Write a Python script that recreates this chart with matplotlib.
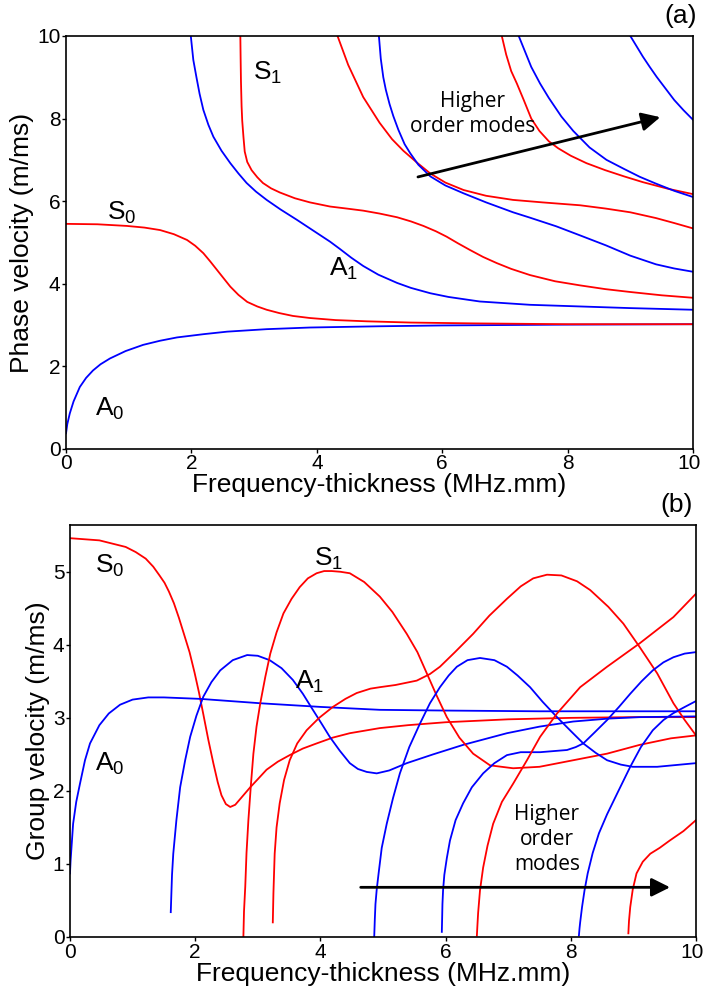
import matplotlib.pyplot as plt
from matplotlib.transforms import ScaledTranslation

plt.rcParams['font.family'] = ['Liberation Sans', 'DejaVu Sans']
plt.rcParams['mathtext.fontset'] = 'custom'
plt.rcParams['mathtext.rm'] = 'Liberation Sans'
plt.rcParams['mathtext.it'] = 'Liberation Sans'

RED = '#ff0000'
BLUE = '#0000ff'

# ---- (a) phase velocity ----
a0_fd = [0, 0.02, 0.06, 0.12, 0.22, 0.32, 0.43, 0.55, 0.7, 0.95, 1.23, 1.5, 1.77, 2.2, 2.57, 3.2, 3.89, 5.0, 6.0, 8.0, 10.0]
a0_cp = [0.38, 0.6, 0.86, 1.15, 1.5, 1.72, 1.9, 2.05, 2.19, 2.37, 2.52, 2.62, 2.7, 2.78, 2.84, 2.9, 2.94, 2.97, 2.99, 3.01, 3.02]

s0_fd = [0, 0.5, 0.97, 1.25, 1.5, 1.72, 1.93, 2.06, 2.19, 2.3, 2.41, 2.52, 2.62, 2.75, 2.89, 3.05, 3.2, 3.4, 3.62, 3.89, 4.3, 4.8, 5.5, 6.5, 8.0, 10.0]
s0_cp = [5.45, 5.44, 5.4, 5.36, 5.3, 5.2, 5.06, 4.92, 4.74, 4.54, 4.33, 4.12, 3.93, 3.73, 3.56, 3.45, 3.37, 3.29, 3.22, 3.17, 3.12, 3.09, 3.06, 3.04, 3.02, 3.02]

a1_fd = [1.99, 2.03, 2.08, 2.13, 2.19, 2.27, 2.35, 2.48, 2.62, 2.75, 2.88, 3.03, 3.2, 3.42, 3.68, 3.95, 4.21, 4.37, 4.55, 4.74, 4.98, 5.28, 5.5, 5.81, 6.1, 6.6, 7.4, 8.2, 9.0, 10.0]
a1_cp = [10.0, 9.42, 9.0, 8.6, 8.21, 7.85, 7.56, 7.22, 6.92, 6.67, 6.44, 6.23, 6.03, 5.8, 5.55, 5.28, 5.02, 4.84, 4.63, 4.43, 4.22, 4.02, 3.9, 3.77, 3.68, 3.57, 3.49, 3.45, 3.41, 3.37]

s1_fd = [2.78, 2.785, 2.79, 2.8, 2.81, 2.83, 2.85, 2.89, 2.96, 3.05, 3.14, 3.27, 3.41, 3.65, 3.89, 4.21, 4.48, 4.74, 5.0, 5.28, 5.5, 5.7, 5.9, 6.07, 6.25, 6.44, 6.65, 6.87, 7.1, 7.4, 7.8, 8.2, 8.6, 9.0, 9.5, 10.0]
s1_cp = [10.0, 9.42, 8.9, 8.3, 7.95, 7.55, 7.2, 6.95, 6.75, 6.58, 6.44, 6.31, 6.21, 6.07, 5.97, 5.87, 5.82, 5.77, 5.7, 5.61, 5.51, 5.4, 5.27, 5.14, 4.98, 4.82, 4.65, 4.5, 4.36, 4.21, 4.06, 3.96, 3.87, 3.8, 3.72, 3.66]

s2_fd = [4.33, 4.5, 4.74, 5.0, 5.2, 5.38, 5.6, 5.81, 6.05, 6.34, 6.7, 7.13, 7.6, 8.2, 8.61, 9.0, 9.41, 9.7, 10.0]
s2_cp = [10.0, 9.3, 8.52, 7.9, 7.5, 7.22, 6.93, 6.67, 6.45, 6.27, 6.13, 6.03, 5.97, 5.9, 5.82, 5.73, 5.59, 5.47, 5.34]

a2_fd = [4.99, 5.02, 5.06, 5.1, 5.16, 5.22, 5.3, 5.4, 5.49, 5.62, 5.81, 6.05, 6.34, 6.7, 7.13, 7.4, 7.82, 8.2, 8.61, 9.0, 9.41, 9.7, 10.0]
a2_cp = [10.0, 9.45, 9.0, 8.7, 8.35, 8.06, 7.73, 7.38, 7.16, 6.88, 6.6, 6.38, 6.19, 5.97, 5.73, 5.6, 5.39, 5.17, 4.93, 4.68, 4.47, 4.37, 4.29]

s3_fd = [6.95, 7.02, 7.1, 7.19, 7.3, 7.42, 7.55, 7.7, 7.85, 8.05, 8.3, 8.6, 8.9, 9.2, 9.6, 10.0]
s3_cp = [10.0, 9.55, 9.15, 8.85, 8.45, 8.0, 7.7, 7.45, 7.28, 7.1, 6.92, 6.75, 6.6, 6.46, 6.3, 6.17]

a3_fd = [7.22, 7.3, 7.42, 7.56, 7.7, 7.9, 8.09, 8.35, 8.62, 8.9, 9.15, 9.4, 9.7, 10.0]
a3_cp = [10.0, 9.7, 9.25, 8.85, 8.5, 8.05, 7.7, 7.3, 7.0, 6.78, 6.59, 6.43, 6.25, 6.1]

a4_fd = [9.0, 9.1, 9.2, 9.31, 9.42, 9.55, 9.7, 9.85, 10.0]
a4_cp = [10.0, 9.75, 9.5, 9.25, 9.01, 8.75, 8.45, 8.2, 7.97]

# ---- (b) group velocity ----
s0g_fd = [0, 0.47, 0.89, 1.05, 1.21, 1.33, 1.43, 1.51, 1.58, 1.66, 1.74, 1.82, 1.91, 1.99, 2.06, 2.13, 2.21, 2.29, 2.36, 2.42, 2.49, 2.56, 2.64, 2.72, 2.8, 2.88, 3.0, 3.14, 3.32, 3.51, 3.72, 3.94, 4.2, 4.47, 4.95, 5.4, 6.0, 7.0, 8.0, 9.0, 10.0]
s0g_cg = [5.46, 5.43, 5.34, 5.27, 5.18, 5.07, 4.95, 4.85, 4.73, 4.57, 4.37, 4.15, 3.9, 3.62, 3.35, 3.05, 2.7, 2.38, 2.12, 1.94, 1.82, 1.78, 1.81, 1.89, 1.97, 2.05, 2.16, 2.29, 2.4, 2.49, 2.58, 2.65, 2.73, 2.79, 2.86, 2.9, 2.94, 2.98, 3.0, 3.01, 3.01]

a0g_fd = [0, 0.01, 0.03, 0.05, 0.1, 0.16, 0.24, 0.32, 0.47, 0.62, 0.8, 1.0, 1.25, 1.5, 2.08, 3.04, 4.0, 4.95, 6.0, 7.5, 10.0]
a0g_cg = [0.87, 1.05, 1.3, 1.55, 1.85, 2.1, 2.42, 2.65, 2.9, 3.06, 3.18, 3.25, 3.28, 3.28, 3.26, 3.2, 3.15, 3.11, 3.1, 3.09, 3.09]

a1g_fd = [1.61, 1.62, 1.63, 1.65, 1.7, 1.76, 1.84, 1.92, 2.02, 2.13, 2.26, 2.4, 2.6, 2.83, 3.0, 3.19, 3.38, 3.56, 3.72, 3.88, 4.02, 4.15, 4.31, 4.47, 4.6, 4.74, 4.9, 5.1, 5.38, 5.8, 6.28, 6.98, 7.5, 8.04, 8.6, 9.1, 10.0]
a1g_cg = [0.34, 0.6, 0.85, 1.14, 1.6, 2.05, 2.42, 2.74, 3.03, 3.29, 3.49, 3.65, 3.79, 3.86, 3.85, 3.79, 3.68, 3.52, 3.33, 3.11, 2.92, 2.74, 2.55, 2.38, 2.3, 2.26, 2.24, 2.28, 2.38, 2.5, 2.63, 2.79, 2.88, 2.95, 2.99, 3.01, 3.02]

s1g_fd = [2.77, 2.78, 2.8, 2.82, 2.85, 2.89, 2.93, 2.98, 3.04, 3.12, 3.2, 3.3, 3.41, 3.54, 3.67, 3.8, 3.94, 4.06, 4.18, 4.32, 4.47, 4.7, 4.95, 5.15, 5.38, 5.55, 5.7, 5.86, 6.02, 6.22, 6.44, 6.71, 7.08, 7.5, 8.04, 8.58, 9.1, 9.6, 10.0]
s1g_cg = [0.0, 0.35, 0.69, 1.15, 1.6, 2.08, 2.51, 2.88, 3.2, 3.56, 3.88, 4.17, 4.43, 4.63, 4.79, 4.91, 4.98, 5.01, 5.01, 5.0, 4.98, 4.86, 4.66, 4.45, 4.15, 3.9, 3.61, 3.3, 3.01, 2.73, 2.51, 2.35, 2.31, 2.33, 2.42, 2.51, 2.63, 2.72, 2.76]

s2g_fd = [3.24, 3.25, 3.27, 3.3, 3.35, 3.42, 3.51, 3.63, 3.78, 3.98, 4.2, 4.4, 4.58, 4.8, 4.95, 5.2, 5.54, 5.75, 5.91, 6.15, 6.44, 6.7, 6.98, 7.2, 7.4, 7.62, 7.85, 8.1, 8.31, 8.6, 8.84, 9.1, 9.38, 9.64, 9.82, 10.0]
s2g_cg = [0.2, 0.6, 1.14, 1.5, 1.83, 2.15, 2.42, 2.65, 2.83, 3.0, 3.15, 3.26, 3.34, 3.4, 3.42, 3.45, 3.51, 3.6, 3.7, 3.9, 4.15, 4.4, 4.63, 4.8, 4.91, 4.96, 4.95, 4.87, 4.75, 4.52, 4.29, 3.97, 3.61, 3.2, 2.97, 2.76]

a2g_fd = [4.86, 4.87, 4.88, 4.9, 4.93, 4.98, 5.06, 5.16, 5.27, 5.42, 5.59, 5.75, 5.91, 6.05, 6.18, 6.35, 6.55, 6.78, 6.98, 7.15, 7.35, 7.55, 7.78, 8.0, 8.2, 8.4, 8.58, 8.8, 8.99, 9.38, 10.0]
a2g_cg = [0.0, 0.25, 0.45, 0.65, 0.87, 1.22, 1.55, 1.9, 2.24, 2.6, 2.92, 3.2, 3.42, 3.58, 3.7, 3.79, 3.82, 3.79, 3.7, 3.58, 3.42, 3.22, 3.01, 2.82, 2.65, 2.52, 2.42, 2.36, 2.33, 2.33, 2.38]

a3g_fd = [5.94, 5.945, 5.95, 5.96, 5.98, 6.02, 6.07, 6.16, 6.28, 6.42, 6.6, 6.78, 6.98, 7.2, 7.51, 7.94, 8.08, 8.2, 8.38, 8.58, 8.77, 8.95, 9.13, 9.31, 9.48, 9.64, 9.82, 10.0]
a3g_cg = [0.07, 0.25, 0.45, 0.64, 0.85, 1.08, 1.32, 1.6, 1.83, 2.05, 2.24, 2.38, 2.49, 2.53, 2.53, 2.56, 2.6, 2.65, 2.8, 2.97, 3.15, 3.33, 3.5, 3.65, 3.76, 3.83, 3.88, 3.9]

s3g_fd = [6.5, 6.51, 6.52, 6.55, 6.6, 6.67, 6.76, 6.9, 7.08, 7.3, 7.51, 7.78, 8.15, 8.58, 9.1, 9.64, 10.0]
s3g_cg = [0.02, 0.18, 0.33, 0.64, 0.95, 1.25, 1.55, 1.85, 2.1, 2.42, 2.74, 3.06, 3.42, 3.7, 4.02, 4.38, 4.7]

a4g_fd = [8.13, 8.14, 8.15, 8.18, 8.22, 8.27, 8.35, 8.45, 8.58, 8.75, 8.95, 9.12, 9.31, 9.48, 9.63, 9.8, 10.0]
a4g_cg = [0.02, 0.12, 0.2, 0.41, 0.64, 0.87, 1.15, 1.42, 1.68, 1.98, 2.33, 2.6, 2.83, 2.97, 3.06, 3.14, 3.23]

s4g_fd = [8.92, 8.925, 8.93, 8.95, 8.99, 9.05, 9.15, 9.27, 9.42, 9.58, 9.8, 10.0]
s4g_cg = [0.05, 0.14, 0.22, 0.41, 0.65, 0.87, 1.03, 1.14, 1.22, 1.32, 1.45, 1.6]

phase_curves = [(a0_fd, a0_cp, BLUE), (s0_fd, s0_cp, RED), (a1_fd, a1_cp, BLUE), (s1_fd, s1_cp, RED),
                (s2_fd, s2_cp, RED), (a2_fd, a2_cp, BLUE), (s3_fd, s3_cp, RED), (a3_fd, a3_cp, BLUE),
                (a4_fd, a4_cp, BLUE)]
group_curves = [(s0g_fd, s0g_cg, RED), (a0g_fd, a0g_cg, BLUE), (a1g_fd, a1g_cg, BLUE), (s1g_fd, s1g_cg, RED),
                (s2g_fd, s2g_cg, RED), (a2g_fd, a2g_cg, BLUE), (a3g_fd, a3g_cg, BLUE), (s3g_fd, s3g_cg, RED),
                (a4g_fd, a4g_cg, BLUE), (s4g_fd, s4g_cg, RED)]

fig = plt.figure(figsize=(7.04, 9.91), dpi=100)
ax1 = fig.add_axes([0.0938, 0.547, 0.8906, 0.4167])
ax2 = fig.add_axes([0.0994, 0.0545, 0.8892, 0.4157])

for x, y, c in phase_curves:
    ax1.plot(x, y, color=c, lw=1.3)
for x, y, c in group_curves:
    ax2.plot(x, y, color=c, lw=1.3)

ax1.set_xlim(0, 10)
ax1.set_ylim(0, 10)
ax1.set_xticks(range(0, 11, 2))
ax1.set_yticks(range(0, 11, 2))
ax2.set_xlim(0, 10)
ax2.set_ylim(0, 5.64)
ax2.set_xticks(range(0, 11, 2))
ax2.set_yticks(range(0, 6))

for ax in (ax1, ax2):
    for s in ax.spines.values():
        s.set_linewidth(1.2)
    ax.tick_params(labelsize=15, length=3, width=1, pad=1)
    ax.set_xlabel('Frequency-thickness (MHz.mm)', fontsize=19, labelpad=0)
    # last x tick label sits a little left of its tick, as in the original
    lbl = ax.xaxis.get_major_ticks()[-1].label1
    lbl.set_transform(lbl.get_transform() + ScaledTranslation(-0.04, 0, fig.dpi_scale_trans))

ax1.set_ylabel('Phase velocity (m/ms)', fontsize=19, labelpad=2)
ax2.set_ylabel('Group velocity (m/ms)', fontsize=19, labelpad=2)

lab = dict(fontsize=19)
ax1.text(0.65, 5.55, r'$\mathregular{S_0}$', **lab)
ax1.text(2.98, 8.95, r'$\mathregular{S_1}$', **lab)
ax1.text(4.2, 4.2, r'$\mathregular{A_1}$', **lab)
ax1.text(0.46, 0.8, r'$\mathregular{A_0}$', **lab)

ax2.text(0.4, 4.98, r'$\mathregular{S_0}$', **lab)
ax2.text(3.9, 5.08, r'$\mathregular{S_1}$', **lab)
ax2.text(3.6, 3.4, r'$\mathregular{A_1}$', **lab)
ax2.text(0.4, 2.27, r'$\mathregular{A_0}$', **lab)

note = dict(fontsize=15, family=['Open Sans', 'DejaVu Sans'], ha='center', va='center', linespacing=1.25)
ax1.text(6.49, 8.1, 'Higher\norder modes', **note)
ax1.annotate('', xy=(9.52, 8.05), xytext=(5.57, 6.57),
             arrowprops=dict(arrowstyle='-|>', color='black', lw=2, mutation_scale=28))
ax2.text(7.62, 1.33, 'Higher\norder\nmodes', **note)
ax2.annotate('', xy=(9.63, 0.68), xytext=(4.6, 0.68),
             arrowprops=dict(arrowstyle='-|>', color='black', lw=2, mutation_scale=28))

fig.text(0.990, 0.984, '(a)', fontsize=19, ha='right', va='center')
fig.text(0.984, 0.4904, '(b)', fontsize=19, ha='right', va='center')

fig.savefig('out.png', dpi=100)
